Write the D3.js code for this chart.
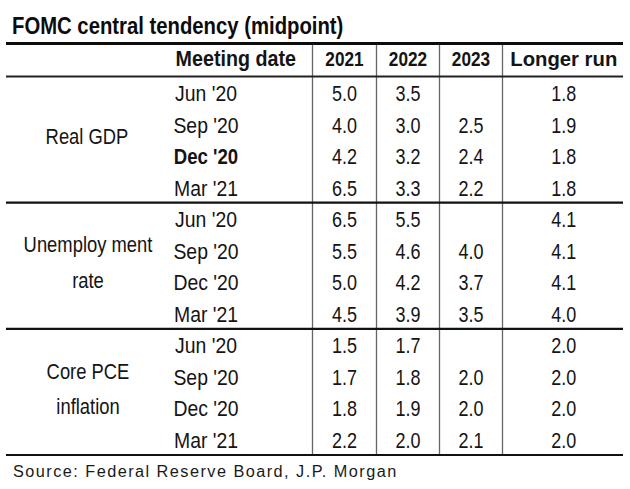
<!DOCTYPE html>
<html><head><meta charset="utf-8">
<script src="https://cdn.jsdelivr.net/npm/d3@7"></script>
<style>body{margin:0;background:#fff}svg{display:block}</style>
</head><body>
<script>
const title = "FOMC central tendency (midpoint)";
const columns = ["Meeting date", "2021", "2022", "2023", "Longer run"];
const groups = [["Real GDP"], ["Unemploy ment", "rate"], ["Core PCE", "inflation"]];
const dates = ["Jun '20", "Sep '20", "Dec '20", "Mar '21"];
const boldDate = [0, 2]; // group 0, row 2
const v2021 = [5.0, 4.0, 4.2, 6.5, 6.5, 5.5, 5.0, 4.5, 1.5, 1.7, 1.8, 2.2];
const v2022 = [3.5, 3.0, 3.2, 3.3, 5.5, 4.6, 4.2, 3.9, 1.7, 1.8, 1.9, 2.0];
const v2023 = [null, 2.5, 2.4, 2.2, null, 4.0, 3.7, 3.5, null, 2.0, 2.0, 2.1];
const vLong = [1.8, 1.9, 1.8, 1.8, 4.1, 4.1, 4.1, 4.0, 2.0, 2.0, 2.0, 2.0];
const source = "Source: Federal Reserve Board, J.P. Morgan";

const W = 630, H = 489;
const svg = d3.select("body").append("svg").attr("width", W).attr("height", H)
  .style("font-family", "'Liberation Sans', Arial, Helvetica, sans-serif");

const left = 6, right = 623;
const topLine = 43.5, headBottom = 76.5, tableBottom = 455;
const colEdges = [left, 312.5, 376.5, 439.5, 502.5, right];

const rowIdx = d3.range(12);
const y = d3.scaleBand().domain(rowIdx).range([headBottom, tableBottom]);

function txt(x, yy, s, o) {
  const t = svg.append("text")
    .attr("transform", `translate(${x},${yy}) scale(1,${o.sy || 1})`)
    .attr("text-anchor", o.anchor || "start")
    .attr("font-size", o.fs).attr("font-weight", o.bold ? "bold" : "normal")
    .attr("fill", o.fill || "#141414").text(s);
  if (o.ls) t.attr("letter-spacing", o.ls);
  return t;
}

txt(12, 34, title, { fs: 20.3, sy: 1.2, bold: true, fill: "#0c0c0c" });

// vertical lines
svg.selectAll("line.v").data(colEdges.slice(1, 5)).join("line")
  .attr("x1", d => d).attr("x2", d => d)
  .attr("y1", topLine).attr("y2", tableBottom)
  .attr("stroke", "#666").attr("stroke-width", 1.3);

const colCenter = i => (colEdges[i + 1] + colEdges[i + 2]) / 2;

// header
txt(296, 66, columns[0], { fs: 19.7, sy: 1.08, bold: true, anchor: "end" });
columns.slice(1).forEach((c, i) => {
  const fs = i === 3 ? 20.3 : 17.2;
  txt(colCenter(i) + (i === 3 ? 1 : 0), 66, c, { fs, sy: 15 / (fs * 0.716), bold: true, anchor: "middle" });
});

// rows
rowIdx.forEach(r => {
  const g = Math.floor(r / 4), k = r % 4;
  const by = y(r) + 24.5;
  const isBold = g === boldDate[0] && k === boldDate[1];
  txt(206, by, dates[k], { fs: isBold ? 18.6 : 19.4, sy: 1.15, bold: isBold, anchor: "middle" });
  [v2021, v2022, v2023, vLong].forEach((arr, i) => {
    const v = arr[r];
    if (v == null) return;
    txt(colCenter(i) + (i === 3 ? 1 : 0), by, d3.format(".1f")(v), { fs: 18, sy: 1.22, anchor: "middle" });
  });
});

// group labels
groups.forEach((lines, g) => {
  const y0 = y(g * 4), y1 = y(g * 4 + 3) + y.bandwidth();
  const mid = (y0 + y1) / 2 + 4.5;
  if (lines.length === 1) {
    txt(87, mid, lines[0], { fs: 18.4, sy: 1.15, anchor: "middle" });
  } else {
    lines.forEach((t, j) => {
      txt(88, mid + (j === 0 ? -17.8 : 17.8), t, { fs: 18.4, sy: 1.15, anchor: "middle" });
    });
  }
});

// horizontal lines
svg.append("line").attr("x1", left).attr("x2", right).attr("y1", topLine).attr("y2", topLine)
  .attr("stroke", "#0c0c0c").attr("stroke-width", 3.2);
svg.append("line").attr("x1", left).attr("x2", right).attr("y1", headBottom).attr("y2", headBottom)
  .attr("stroke", "#222").attr("stroke-width", 2);
[4, 8].forEach(r => {
  svg.append("line").attr("x1", left).attr("x2", right).attr("y1", y(r)).attr("y2", y(r))
    .attr("stroke", "#111").attr("stroke-width", 2.2);
});
svg.append("line").attr("x1", left).attr("x2", right).attr("y1", tableBottom).attr("y2", tableBottom)
  .attr("stroke", "#111").attr("stroke-width", 2.2);

txt(13, 476.5, source, { fs: 16.3, sy: 1.02, ls: 1.45, fill: "#1a1a1a" });
</script>
</body></html>
